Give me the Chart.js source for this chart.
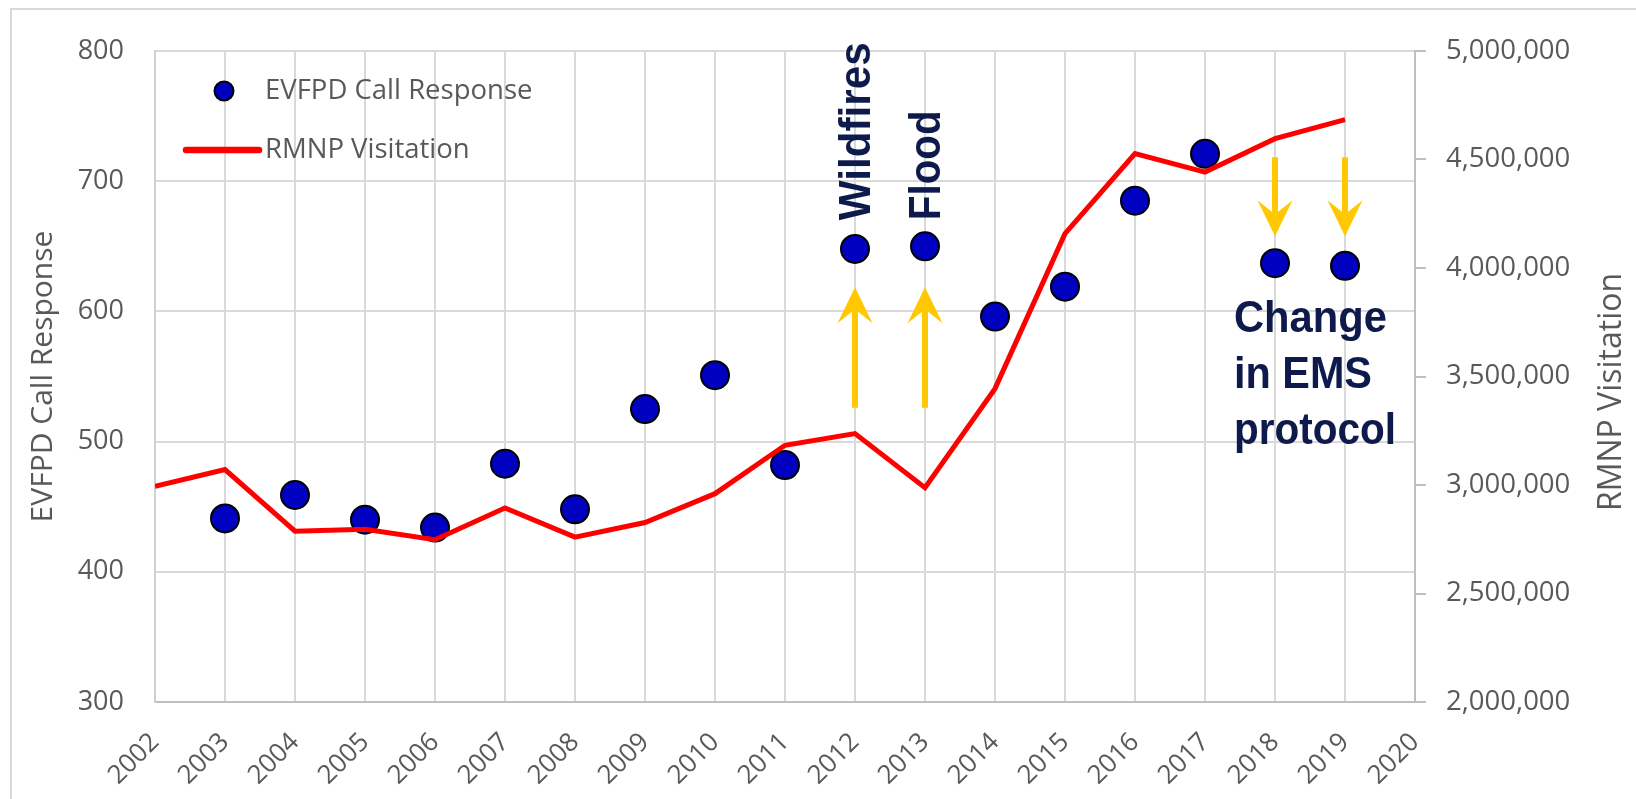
<!DOCTYPE html>
<html>
<head>
<meta charset="utf-8">
<script src="https://cdn.jsdelivr.net/npm/chart.js@4.4.1/dist/chart.umd.min.js"></script>
<style>
  html, body { margin: 0; padding: 0; background: #ffffff; overflow: hidden; }
  #wrap { width: 1636px; height: 799px; position: relative; }
</style>
</head>
<body>
<div id="wrap"><canvas id="c" width="1636" height="799"></canvas></div>
<script>
// ---------------- data ----------------
const callYears = [2003, 2004, 2005, 2006, 2007, 2008, 2009, 2010, 2011, 2012, 2013, 2014, 2015, 2016, 2017, 2018, 2019];
const callResponses = [441, 459, 440, 434, 483, 448, 525, 551, 482, 648, 650, 596, 619, 685, 721, 637, 635];

const visitYears = [2002, 2003, 2004, 2005, 2006, 2007, 2008, 2009, 2010, 2011, 2012, 2013, 2014, 2015, 2016, 2017, 2018, 2019];
const visitation = [2994000, 3071000, 2787000, 2796000, 2748000, 2894000, 2760000, 2827000, 2960000, 3183000, 3237000, 2988000, 3444000, 4158000, 4527000, 4442000, 4596000, 4684000];

const seriesNames = ['EVFPD Call Response', 'RMNP Visitation'];
const axisTitles = ['EVFPD Call Response', 'RMNP Visitation'];

const eventLabels = ['Wildfires', 'Flood'];
const eventYears = [2012, 2013];
const protocolNote = ['Change', 'in EMS', 'protocol'];
const protocolYears = [2018, 2019];

// ---------------- annotation placement (in axis units) ----------------
const annot = {
  upArrowFrom: 526, upArrowTo: 618.5,
  downArrowFrom: 718.4, downArrowTo: 657.7,
  eventTextStart: 670,
  noteX: 2017.414, noteY: 584
};
const annotStyle = {
  arrowColor: '#ffc800', shaftWidth: 6, headWidth: 35, headLength: 36, notch: 22,
  textColor: '#0d1a4b',
  eventFont: 'bold 45px "Liberation Sans", Arial, sans-serif',
  eventMaxWidth: [178, 110], eventBaselineOffset: 15,
  noteFont: 'bold 45px "Liberation Sans", Arial, sans-serif',
  noteMaxWidth: [153, 138, 162], noteLineHeight: 55.7
};

const GRAY = '#595959';
const FONT = '"Open Sans", sans-serif';

function drawArrow(ctx, x, yFrom, yTo, st) {
  const dir = Math.sign(yTo - yFrom);
  ctx.save();
  ctx.strokeStyle = st.arrowColor;
  ctx.fillStyle = st.arrowColor;
  ctx.lineWidth = st.shaftWidth;
  ctx.lineCap = 'butt';
  ctx.beginPath();
  ctx.moveTo(x, yFrom);
  ctx.lineTo(x, yTo - dir * (st.notch - 2));
  ctx.stroke();
  const half = st.headWidth / 2;
  ctx.beginPath();
  ctx.moveTo(x, yTo);
  ctx.lineTo(x - half, yTo - dir * st.headLength);
  ctx.lineTo(x, yTo - dir * st.notch);
  ctx.lineTo(x + half, yTo - dir * st.headLength);
  ctx.closePath();
  ctx.fill();
  ctx.restore();
}

const overlayPlugin = {
  id: 'overlay',
  beforeDraw(chart) {
    const ctx = chart.ctx;
    ctx.save();
    ctx.fillStyle = '#ffffff';
    ctx.fillRect(0, 0, chart.width, chart.height);
    ctx.strokeStyle = '#d9d9d9';
    ctx.lineWidth = 2;
    ctx.strokeRect(11, 9, chart.width + 20, chart.height + 20);
    ctx.restore();
  },
  afterDatasetsDraw(chart) {
    const ctx = chart.ctx;
    const xs = chart.scales.x, ys = chart.scales.y;
    const st = annotStyle;
    eventYears.forEach((yr, i) => {
      const px = xs.getPixelForValue(yr);
      drawArrow(ctx, px, ys.getPixelForValue(annot.upArrowFrom), ys.getPixelForValue(annot.upArrowTo), st);
      ctx.save();
      ctx.translate(px + st.eventBaselineOffset, ys.getPixelForValue(annot.eventTextStart));
      ctx.rotate(-Math.PI / 2);
      ctx.font = st.eventFont;
      ctx.fillStyle = st.textColor;
      ctx.textAlign = 'left';
      ctx.textBaseline = 'alphabetic';
      ctx.fillText(eventLabels[i], 0, 0, st.eventMaxWidth[i]);
      ctx.restore();
    });
    protocolYears.forEach(yr => {
      const px = xs.getPixelForValue(yr);
      drawArrow(ctx, px, ys.getPixelForValue(annot.downArrowFrom), ys.getPixelForValue(annot.downArrowTo), st);
    });
    ctx.save();
    ctx.font = st.noteFont;
    ctx.fillStyle = st.textColor;
    ctx.textAlign = 'left';
    ctx.textBaseline = 'alphabetic';
    const nx = xs.getPixelForValue(annot.noteX);
    const ny = ys.getPixelForValue(annot.noteY);
    protocolNote.forEach((line, i) => {
      ctx.fillText(line, nx, ny + i * st.noteLineHeight, st.noteMaxWidth[i]);
    });
    ctx.restore();
  },
  afterDraw(chart) {
    const ctx = chart.ctx;
    const ca = chart.chartArea;
    const d0 = chart.data.datasets[0], d1 = chart.data.datasets[1];
    ctx.save();
    // legend: marker entry
    ctx.beginPath();
    ctx.arc(ca.left + 69, ca.top + 40, 9.5, 0, Math.PI * 2);
    ctx.fillStyle = d0.backgroundColor;
    ctx.fill();
    ctx.lineWidth = 2;
    ctx.strokeStyle = d0.borderColor;
    ctx.stroke();
    // legend: line entry
    ctx.beginPath();
    ctx.moveTo(ca.left + 31, ca.top + 99);
    ctx.lineTo(ca.left + 104, ca.top + 99);
    ctx.lineWidth = 6.5;
    ctx.lineCap = 'round';
    ctx.strokeStyle = d1.borderColor;
    ctx.stroke();
    ctx.fillStyle = GRAY;
    ctx.font = '27.5px ' + FONT;
    ctx.textAlign = 'left';
    ctx.textBaseline = 'middle';
    ctx.fillText(d0.label, ca.left + 110, ca.top + 40);
    ctx.fillText(d1.label, ca.left + 110, ca.top + 99);
    // right axis title (reads bottom-to-top)
    ctx.translate(1621, 392);
    ctx.rotate(-Math.PI / 2);
    ctx.font = '32px ' + FONT;
    ctx.textAlign = 'center';
    ctx.textBaseline = 'alphabetic';
    ctx.fillText(axisTitles[1], 0, 0);
    ctx.restore();
  }
};

Chart.defaults.font.family = FONT;
Chart.defaults.color = GRAY;

new Chart(document.getElementById('c'), {
  type: 'scatter',
  data: {
    datasets: [
      {
        label: seriesNames[0],
        data: callYears.map((y, i) => ({ x: y, y: callResponses[i] })),
        yAxisID: 'y',
        backgroundColor: '#0000c0',
        borderColor: '#000000',
        borderWidth: 2,
        pointRadius: 14,
        pointHoverRadius: 14,
        order: 1
      },
      {
        label: seriesNames[1],
        data: visitYears.map((y, i) => ({ x: y, y: visitation[i] })),
        yAxisID: 'y2',
        showLine: true,
        borderColor: '#ff0000',
        backgroundColor: '#ff0000',
        borderWidth: 5,
        pointRadius: 0,
        pointHoverRadius: 0,
        tension: 0,
        borderJoinStyle: 'miter',
        order: 0
      }
    ]
  },
  options: {
    responsive: false,
    animation: false,
    devicePixelRatio: 1,
    layout: { padding: { top: 51, left: 0, right: 0, bottom: 0 } },
    plugins: { legend: { display: false }, tooltip: { enabled: false } },
    scales: {
      x: {
        type: 'linear',
        min: 2002, max: 2020,
        afterFit: s => { s.height = 97; },
        grid: { color: '#d9d9d9', lineWidth: 2, drawTicks: false },
        border: { color: '#bfbfbf', width: 2 },
        ticks: {
          stepSize: 1, autoSkip: false, maxRotation: 45, minRotation: 45,
          padding: 25, font: { size: 26 }, color: GRAY,
          callback: v => String(v)
        }
      },
      y: {
        position: 'left',
        min: 300, max: 800,
        afterFit: s => { s.width = 155; },
        grid: { color: '#d9d9d9', lineWidth: 2, drawTicks: false },
        border: { color: '#d0d0d0', width: 2 },
        ticks: { stepSize: 100, padding: 31, font: { size: 27 }, color: GRAY },
        title: { display: true, text: axisTitles[0], font: { size: 30 }, color: GRAY, padding: { top: 25, bottom: 0 } }
      },
      y2: {
        position: 'right',
        min: 2000000, max: 5000000,
        afterFit: s => { s.width = 221; },
        grid: { drawOnChartArea: false, drawTicks: true, tickLength: 11, color: '#bfbfbf', lineWidth: 2 },
        border: { color: '#bfbfbf', width: 2 },
        ticks: {
          stepSize: 500000, padding: 20, font: { size: 27.5 }, color: GRAY,
          callback: v => v.toLocaleString('en-US')
        }
      }
    }
  },
  plugins: [overlayPlugin]
});
</script>
</body>
</html>
